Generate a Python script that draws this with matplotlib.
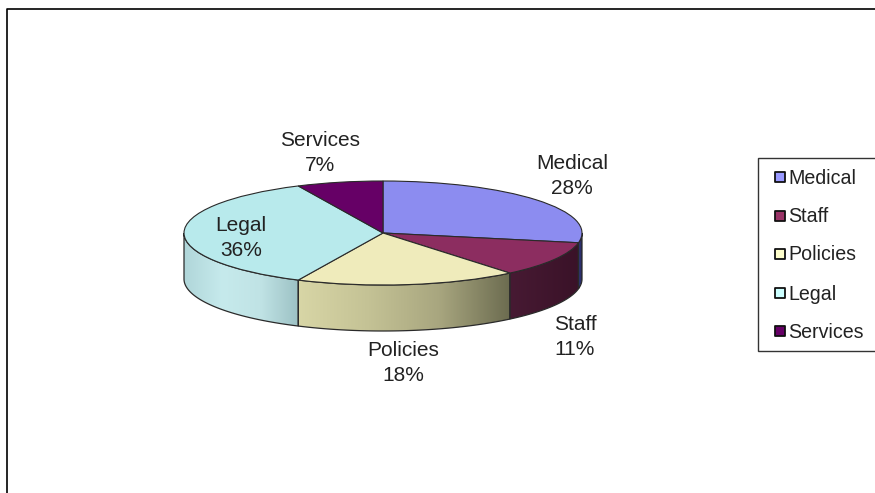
import matplotlib
matplotlib.use("Agg")
import matplotlib.pyplot as plt
import numpy as np
from matplotlib.colors import LinearSegmentedColormap
from matplotlib.patches import Polygon, Rectangle

plt.rcParams['font.family'] = ['Liberation Sans', 'DejaVu Sans']

categories = ['Medical', 'Staff', 'Policies', 'Legal', 'Services']
values = [28, 11, 18, 36, 7]
top_colors = ['#8c8cf0', '#8c2d60', '#efebbb', '#b8eaec', '#660066']
legend_colors = ['#9999ff', '#993366', '#ffffcc', '#ccffff', '#660066']
# wall colours run left to right as seen on the page
wall_shades = [
    ['#3a3f8a', '#23265c'],
    ['#471a33', '#3a1228'],
    ['#d8d6a6', '#c4c295', '#a8a67f', '#6c6c50'],
    ['#b0d6d9', '#c6eaec', '#c0e3e5', '#9cc1c4'],
    ['#660066', '#660066'],
]

W, H = 875, 493
cx, cy, rx, ry, depth = 383, 233, 199, 52, 46
edge = '#2a2a2a'

fig = plt.figure(figsize=(W / 100, H / 100), dpi=100, facecolor='white')
ax = fig.add_axes([0, 0, 1, 1])

# top face comes from pie, stretched to an ellipse by the axis limits
wedges, _ = ax.pie(values, startangle=90, counterclock=False, colors=top_colors,
                   wedgeprops=dict(edgecolor=edge, linewidth=0.8, zorder=5))
ax.set_aspect('auto')
ax.set_xlim((0 - cx) / rx, (W - cx) / rx)
ax.set_ylim((cy - H) / ry, cy / ry)
xlim, ylim = ax.get_xlim(), ax.get_ylim()

# side wall, only the front half of the ellipse is visible
d = depth / ry
bounds = np.concatenate([[0], np.cumsum(values)]) / np.sum(values) * 360
for i, shades in enumerate(wall_shades):
    a0, a1 = max(bounds[i], 90), min(bounds[i + 1], 270)
    if a1 <= a0:
        continue
    t = np.radians(np.linspace(a0, a1, 80))
    xs, ys = np.sin(t), np.cos(t)
    pts = np.vstack([np.column_stack([xs, ys]),
                     np.column_stack([xs[::-1], ys[::-1] - d])])
    cmap = LinearSegmentedColormap.from_list('w%d' % i, shades)
    grad = np.linspace(0, 1, 256).reshape(1, -1)
    im = ax.imshow(grad, cmap=cmap, aspect='auto', zorder=2,
                   extent=(xs.min(), xs.max(), ys.min() - d, ys.max()))
    poly = Polygon(pts, closed=True, facecolor='none', edgecolor=edge,
                   linewidth=0.9, zorder=3)
    ax.add_patch(poly)
    im.set_clip_path(poly)
ax.set_xlim(xlim)
ax.set_ylim(ylim)

# overlay in pixel coordinates for frame, labels and legend
pa = fig.add_axes([0, 0, 1, 1], facecolor='none')
pa.set_xlim(0, W)
pa.set_ylim(H, 0)
pa.axis('off')

pa.plot([7, 7, W], [H, 9, 9], color='black', linewidth=1.2, clip_on=False)

label_xy = [(572, 176), (575, 337), (403, 363), (241, 238), (320, 153)]
for name, val, (x, y) in zip(categories, values, label_xy):
    pa.text(x, y, '%s\n%d%%' % (name, val), ha='center', va='center',
            fontsize=15, color='#222222', linespacing=1.38, zorder=10)

pa.add_patch(Rectangle((758, 158), 130, 193, facecolor='white',
                       edgecolor='#333333', linewidth=1.0))
legend_y = [177, 216, 254, 293, 331]
for name, col, y in zip(categories, legend_colors, legend_y):
    pa.scatter([780], [y], marker='s', s=52, color=col, edgecolor='#111111', linewidth=1.3)
    pa.text(788, y + 1, name, ha='left', va='center', fontsize=14.1, color='#222222')

fig.savefig('out.png', dpi=100)
